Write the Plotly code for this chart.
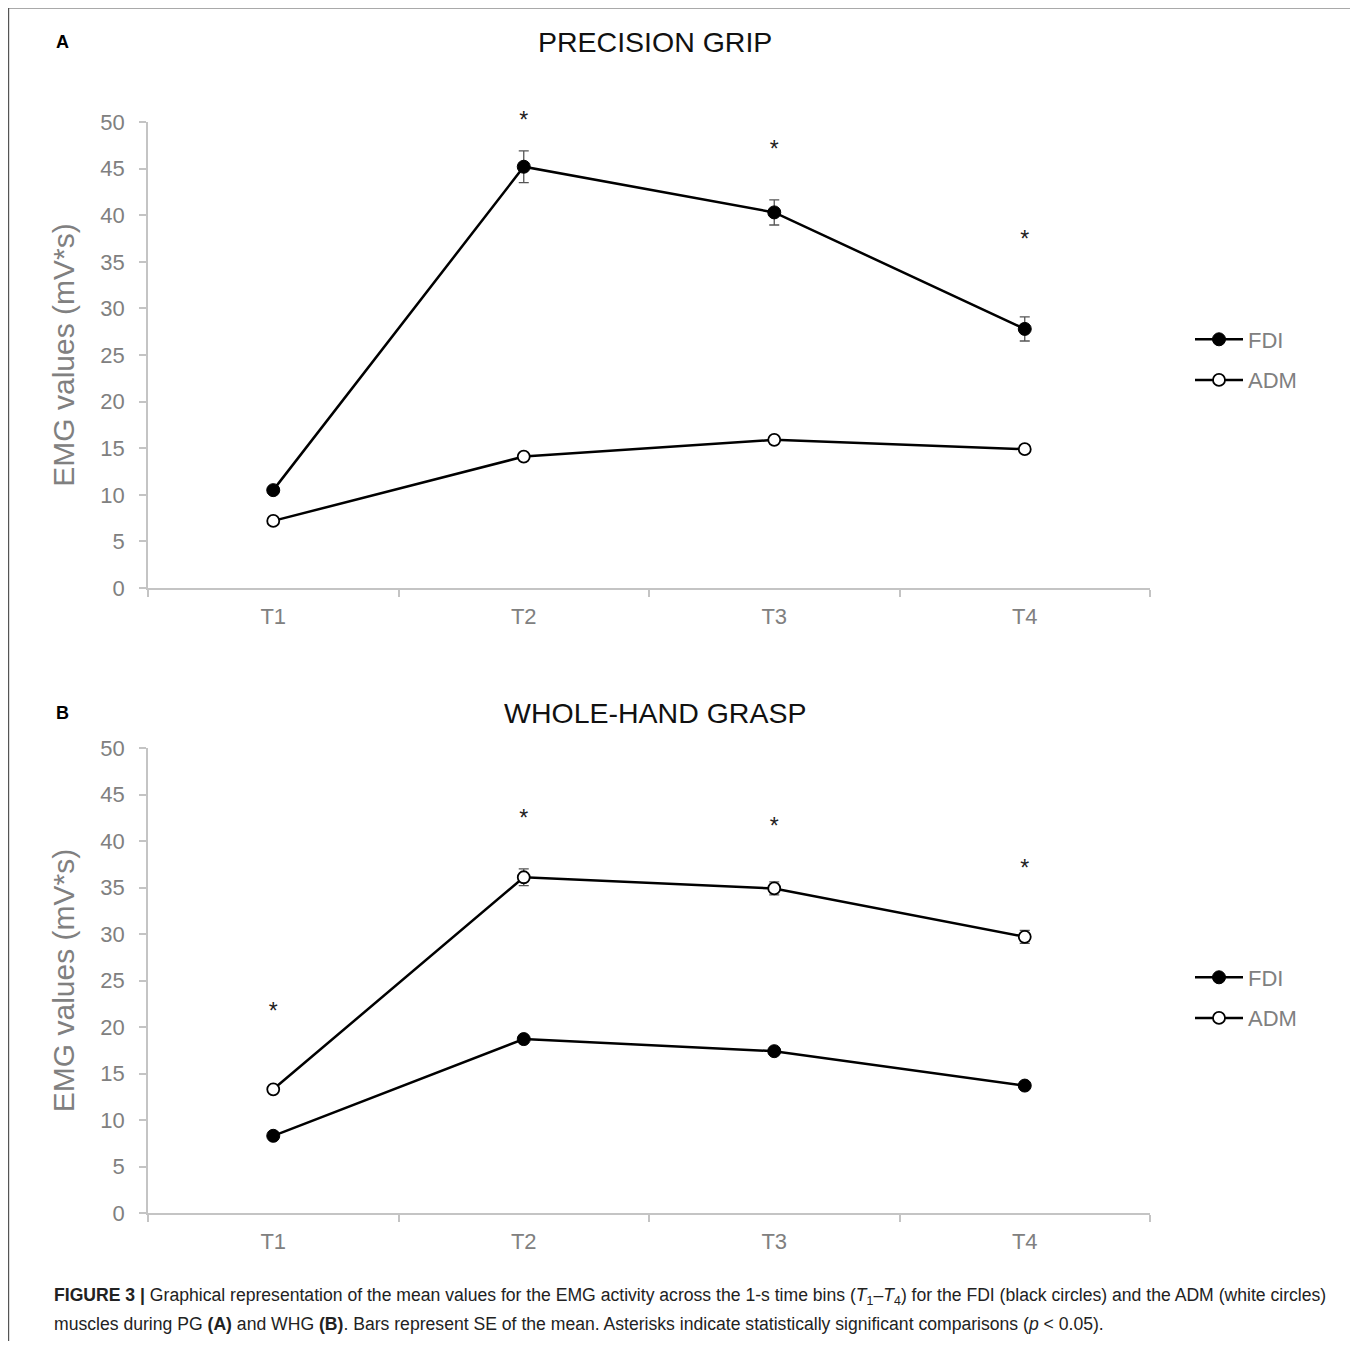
import plotly.graph_objects as go

W, H = 1358, 1349          # reference image size
OFF = 8                    # page body margin compensation (px)
FW, FH = W - OFF, H - 2 * OFF  # figure size so the page does not overflow

categories = ["T1", "T2", "T3", "T4"]

# Panel A: precision grip
fdi_pg = [10.5, 45.2, 40.3, 27.8]
fdi_pg_se = [0.3, 1.7, 1.35, 1.3]
adm_pg = [7.2, 14.1, 15.9, 14.9]
adm_pg_se = [0.2, 0.3, 0.3, 0.4]
sig_pg = [None, 50.0, 46.9, 37.2]

# Panel B: whole-hand grasp
fdi_whg = [8.3, 18.7, 17.4, 13.7]
fdi_whg_se = [0.2, 0.3, 0.3, 0.3]
adm_whg = [13.3, 36.1, 34.9, 29.7]
adm_whg_se = [0.3, 0.9, 0.7, 0.7]
sig_whg = [21.5, 42.2, 41.4, 36.9]

AX_GRAY = "#c4c4c4"
TXT_GRAY = "#808080"
ERR_GRAY = "#555555"
FONT = "Liberation Sans, Arial, sans-serif"


def px(x):
    return (x - OFF) / FW


def py(y):
    return 1 - (y - OFF) / FH


fig = go.Figure()


def add_panel(xa, ya, leg, fdi, fdi_se, adm, adm_se, sig):
    fig.add_trace(go.Scatter(
        x=categories, y=fdi, name="FDI", mode="lines+markers",
        line=dict(color="black", width=2.5),
        marker=dict(color="black", size=13, line=dict(color="black", width=1)),
        error_y=dict(type="data", array=fdi_se, color=ERR_GRAY, thickness=1.3, width=5),
        xaxis=xa, yaxis=ya, legend=leg, legendgroup=leg + "fdi", cliponaxis=False,
    ))
    fig.add_trace(go.Scatter(
        x=categories, y=adm, name="ADM", mode="lines+markers",
        line=dict(color="black", width=2.5),
        marker=dict(color="white", size=12, line=dict(color="black", width=1.8)),
        error_y=dict(type="data", array=adm_se, color=ERR_GRAY, thickness=1.3, width=5),
        xaxis=xa, yaxis=ya, legend=leg, legendgroup=leg + "adm", cliponaxis=False,
    ))
    sx = [c for c, v in zip(categories, sig) if v is not None]
    sy = [v for v in sig if v is not None]
    fig.add_trace(go.Scatter(
        x=sx, y=sy, mode="text", text=["*"] * len(sy),
        textfont=dict(size=23, color="#222222", family=FONT), textposition="middle center",
        showlegend=False, xaxis=xa, yaxis=ya, hoverinfo="skip", cliponaxis=False,
    ))


add_panel("x", "y", "legend", fdi_pg, fdi_pg_se, adm_pg, adm_pg_se, sig_pg)
add_panel("x2", "y2", "legend2", fdi_whg, fdi_whg_se, adm_whg, adm_whg_se, sig_whg)

x_dom = [px(148), px(1150)]
yA = [py(588), py(122)]
yB = [py(1213), py(748)]

xaxis_common = dict(
    type="category", categoryorder="array", categoryarray=categories,
    range=[-0.5, 3.5], showgrid=False, zeroline=False, automargin=False,
    showline=True, linecolor=AX_GRAY, linewidth=2,
    ticks="outside", tickson="boundaries", ticklen=7, tickcolor=AX_GRAY, tickwidth=1.5,
    tickfont=dict(size=22, color=TXT_GRAY, family=FONT), ticklabelstandoff=8,
)
yaxis_common = dict(
    range=[0, 50], dtick=5, tick0=0, showgrid=False, zeroline=False, automargin=False,
    showline=True, linecolor=AX_GRAY, linewidth=1.5,
    ticks="outside", ticklen=7, tickcolor=AX_GRAY, tickwidth=1.5,
    tickfont=dict(size=22, color=TXT_GRAY, family=FONT), ticklabelstandoff=10,
    title=dict(text="EMG values (mV*s)", font=dict(size=30, color=TXT_GRAY, family=FONT), standoff=17),
)

legend_common = dict(
    font=dict(size=22, color=TXT_GRAY, family=FONT), bgcolor="rgba(0,0,0,0)",
    xanchor="left", yanchor="middle", tracegroupgap=9, itemwidth=48,
)

fig.update_layout(
    template="plotly",
    width=FW, height=FH, margin=dict(l=0, r=0, t=0, b=0, autoexpand=False),
    paper_bgcolor="white", plot_bgcolor="white",
    font=dict(family=FONT),
    xaxis=dict(domain=x_dom, anchor="y", **xaxis_common),
    yaxis=dict(domain=yA, anchor="x", **yaxis_common),
    xaxis2=dict(domain=x_dom, anchor="y2", **xaxis_common),
    yaxis2=dict(domain=yB, anchor="x2", **yaxis_common),
    legend=dict(x=px(1190), y=py(360), **legend_common),
    legend2=dict(x=px(1190), y=py(998), **legend_common),
    showlegend=True,
)

cap1 = ("<b>FIGURE 3 |</b> Graphical representation of the mean values for the EMG activity across the 1-s time bins "
        "(<i>T</i><sub>1</sub>–<i>T</i><sub>4</sub>) for the FDI (black circles) and the ADM (white circles)")
cap2 = ("muscles during PG <b>(A)</b> and WHG <b>(B)</b>. Bars represent SE of the mean. "
        "Asterisks indicate statistically significant comparisons (<i>p</i> &lt; 0.05).")

annotations = [
    dict(text="<b>A</b>", x=px(62), y=py(42)),
    dict(text="PRECISION GRIP", x=px(655), y=py(42), font=dict(size=28.5, color="#111111", family=FONT)),
    dict(text="<b>B</b>", x=px(62), y=py(713)),
    dict(text="WHOLE-HAND GRASP", x=px(655), y=py(713), font=dict(size=28.5, color="#111111", family=FONT)),
    dict(text=cap1, x=px(52), y=py(1296), xanchor="left", align="left",
         font=dict(size=17.6, color="#222222", family=FONT)),
    dict(text=cap2, x=px(52), y=py(1324), xanchor="left", align="left",
         font=dict(size=17.6, color="#222222", family=FONT)),
]
for a in annotations:
    a.setdefault("font", dict(size=18, color="black", family=FONT))
    a.setdefault("xanchor", "center")
    a.update(xref="paper", yref="paper", showarrow=False, yanchor="middle")
fig.update_layout(annotations=annotations)

# outer frame of the figure panel (left edge clamped to the drawable area)
fig.add_shape(type="rect", xref="paper", yref="paper", x0=max(px(6.5), 0.6 / FW), x1=px(1351),
              y0=-0.02, y1=py(8),
              line=dict(color="#555555", width=1.2), fillcolor="rgba(0,0,0,0)", layer="below")

fig.write_html("out.html")
